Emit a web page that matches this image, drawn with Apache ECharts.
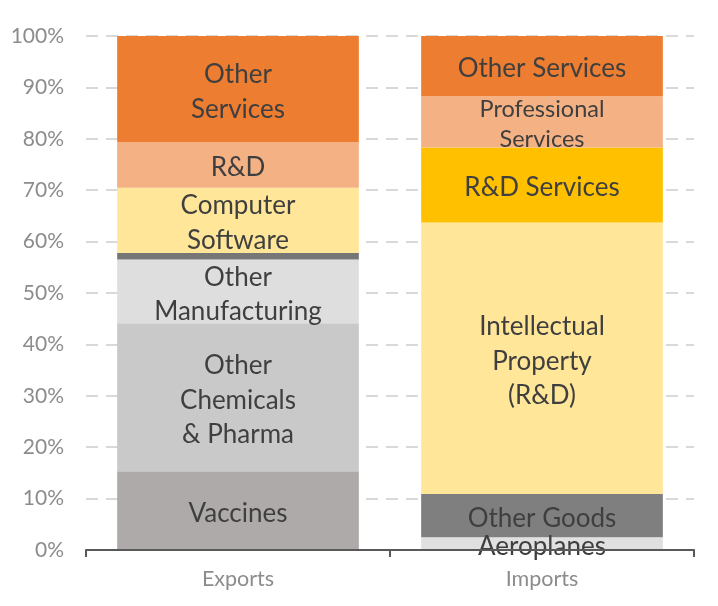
<!DOCTYPE html>
<html>
<head>
<meta charset="utf-8">
<script src="https://cdn.jsdelivr.net/npm/echarts@6/dist/echarts.min.js"></script>
<style>html,body{margin:0;padding:0;background:#fff}#c{width:718px;height:606px}</style>
</head>
<body>
<div id="c"></div>
<script>
var categories = ['Exports', 'Imports'];

var exportNames = ['Vaccines', 'Other Chemicals & Pharma', 'Other Manufacturing', 'Other Goods', 'Computer Software', 'R&D', 'Other Services'];
var exportValues = [15.3, 28.8, 12.4, 1.3, 12.7, 8.9, 20.6];
var exportLabels = ['Vaccines', 'Other\nChemicals\n& Pharma', 'Other\nManufacturing', '', 'Computer\nSoftware', 'R&D', 'Other\nServices'];
var exportColors = ['#aeaaaa', '#c9c9c9', '#dedede', '#767676', '#ffe699', '#f4b183', '#ed7d31'];

var importNames = ['Aeroplanes', 'Other Goods', 'Intellectual Property (R&D)', 'R&D Services', 'Professional Services', 'Other Services'];
var importValues = [2.5, 8.4, 52.8, 14.6, 10.0, 11.7];
var importLabels = ['Aeroplanes', 'Other Goods', 'Intellectual\nProperty\n(R&D)', 'R&D Services', 'Professional\nServices', 'Other Services'];
var importColors = ['#e0e0e0', '#7f7f7f', '#ffe699', '#ffc000', '#f4b183', '#ed7d31'];

var yTicks = [0, 10, 20, 30, 40, 50, 60, 70, 80, 90, 100];

var series = [];
function addSeries(names, values, labels, colors, idx) {
  for (var i = 0; i < names.length; i++) {
    var d = ['-', '-'];
    d[idx] = values[i];
    var small = labels[i] === 'Professional\nServices';
    series.push({
      name: names[i] + ' (' + categories[idx] + ')',
      type: 'bar',
      stack: 'total',
      barCategoryGap: '20.5%',
      data: d,
      itemStyle: { color: colors[i] },
      label: {
        show: labels[i] !== '',
        position: 'inside',
        offset: [0, 3],
        formatter: (function (t) { return function () { return t; }; })(labels[i]),
        color: '#3f3f3f',
        fontFamily: 'Lato',
        fontSize: small ? 23.5 : 26,
        lineHeight: small ? 30 : 34.5
      },
      silent: true,
      animation: false
    });
  }
}
addSeries(exportNames, exportValues, exportLabels, exportColors, 0);
addSeries(importNames, importValues, importLabels, importColors, 1);

var chart = echarts.init(document.getElementById('c'), null, { renderer: 'canvas' });
chart.setOption({
  animation: false,
  backgroundColor: '#ffffff',
  grid: { left: 86, right: 24, top: 36, bottom: 56, containLabel: false },
  xAxis: {
    type: 'category',
    data: categories,
    axisLine: { show: true, lineStyle: { color: '#595959', width: 2 } },
    axisTick: { show: true, length: 7, alignWithLabel: false, lineStyle: { color: '#595959', width: 2 } },
    axisLabel: { color: '#8c8c8c', fontFamily: 'Lato', fontSize: 21.5, margin: 18 },
    z: 10
  },
  yAxis: {
    type: 'value',
    min: yTicks[0],
    max: yTicks[yTicks.length - 1],
    interval: 10,
    axisLine: { show: false },
    axisTick: { show: false },
    axisLabel: { color: '#8c8c8c', fontFamily: 'Lato', fontSize: 21, margin: 22, formatter: '{value}%' },
    splitLine: { show: true, lineStyle: { color: '#d9d9d9', width: 2, type: [12, 8] } }
  },
  series: series
});
</script>
</body>
</html>
